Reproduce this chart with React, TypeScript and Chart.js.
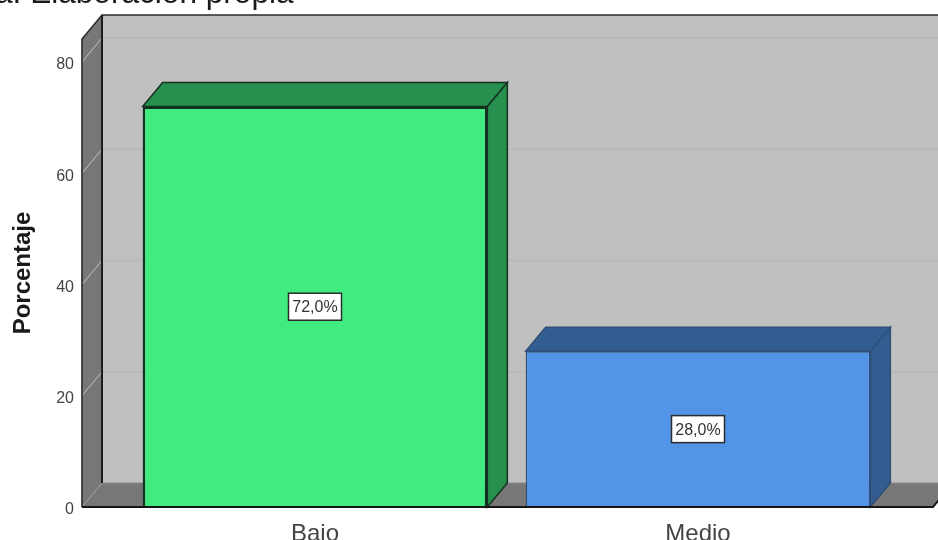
import React, { useEffect, useRef } from "react";
import { Chart, registerables } from "chart.js";

Chart.register(...registerables);

const categories = ["Bajo", "Medio"];
const percentages = [72, 28];
const yTicksMax = 84.13;
const frontColors = ["#40ec80", "#5294e6"];
const shadeColors = ["#28904f", "#335c90"];
const edgeColors = ["#14301f", "#2f4f78"];
const sourceText = "a: Elaboración propia";

const DX = 20;
const DY = 24;
const FONT = "'Liberation Sans', Arial, sans-serif";

const poly = (ctx: CanvasRenderingContext2D, pts: number[][], fill: string, stroke?: string, lw = 1) => {
  ctx.beginPath();
  pts.forEach((p, i) => (i ? ctx.lineTo(p[0], p[1]) : ctx.moveTo(p[0], p[1])));
  ctx.closePath();
  ctx.fillStyle = fill;
  ctx.fill();
  if (stroke) {
    ctx.strokeStyle = stroke;
    ctx.lineWidth = lw;
    ctx.stroke();
  }
};

const line = (ctx: CanvasRenderingContext2D, pts: number[][], stroke: string, lw = 1) => {
  ctx.beginPath();
  pts.forEach((p, i) => (i ? ctx.lineTo(p[0], p[1]) : ctx.moveTo(p[0], p[1])));
  ctx.strokeStyle = stroke;
  ctx.lineWidth = lw;
  ctx.stroke();
};

const frame3d = {
  id: "frame3d",
  beforeDraw(chart: any) {
    // y tick labels sit slightly below their gridline in the reference
    chart.scales.y.getLabelItems().forEach((item: any) => {
      item.options.translation[1] += 3;
    });
  },
  beforeDatasetsDraw(chart: any) {
    const { ctx, chartArea, scales } = chart;
    const y = scales.y;
    const L = chartArea.left - 41.5;
    const R = chartArea.right + 43.5;
    const B = y.getPixelForValue(0);
    const T = y.getPixelForValue(yTicksMax);
    ctx.save();
    poly(ctx, [[L + DX, T - DY], [R + DX, T - DY], [R + DX, B - DY], [L + DX, B - DY]], "#c0c0c0");
    poly(ctx, [[L, T], [L + DX, T - DY], [L + DX, B - DY], [L, B]], "#777777");
    poly(ctx, [[L, B], [L + DX, B - DY], [R + DX, B - DY], [R, B]], "#777777");
    line(ctx, [[L + DX, B - DY], [R + DX, B - DY]], "#8c8c8c", 1);
    [20, 40, 60, 80].forEach((v) => {
      const py = y.getPixelForValue(v);
      line(ctx, [[L, py], [L + DX, py - DY]], "#c4c4c4", 1);
      line(ctx, [[L + DX, py - DY], [R + DX, py - DY]], "#b8b8b8", 2);
    });
    line(ctx, [[L, B], [L + DX, B - DY]], "#9a9a9a", 1);
    line(ctx, [[L, B], [L, T], [L + DX, T - DY], [R + DX, T - DY]], "#2a2a2a", 1.5);
    line(ctx, [[L, T], [L, B]], "#3c3c3c", 1);
    line(ctx, [[L + DX, T - DY], [L + DX, B - DY]], "#1c1c1c", 2);
    chart.getDatasetMeta(0).data.forEach((bar: any, i: number) => {
      const l = bar.x - bar.width / 2;
      const r = bar.x + bar.width / 2;
      const t = bar.y;
      const b = bar.base;
      poly(ctx, [[l, t], [l + DX, t - DY], [r + DX, t - DY], [r, t]], shadeColors[i], edgeColors[i], 1.5);
      poly(ctx, [[r, t], [r + DX, t - DY], [r + DX, b - DY], [r, b]], shadeColors[i], edgeColors[i], 1.5);
    });
    ctx.restore();
  },
  afterDatasetsDraw(chart: any) {
    const { ctx, chartArea, scales } = chart;
    const y = scales.y;
    const L = chartArea.left - 41.5;
    const R = chartArea.right + 43.5;
    const B = y.getPixelForValue(0);
    ctx.save();
    line(ctx, [[L, B], [R, B], [R + DX, B - DY]], "#151515", 2);
    ctx.font = `16px ${FONT}`;
    ctx.textAlign = "center";
    ctx.textBaseline = "middle";
    chart.getDatasetMeta(0).data.forEach((bar: any, i: number) => {
      const cy = y.getPixelForValue(percentages[i] / 2);
      const w = 53;
      const h = 27;
      ctx.fillStyle = "#ffffff";
      ctx.fillRect(bar.x - w / 2, cy - h / 2, w, h);
      ctx.strokeStyle = "#2c2c2c";
      ctx.lineWidth = 1.5;
      ctx.strokeRect(bar.x - w / 2, cy - h / 2, w, h);
      ctx.fillStyle = "#333333";
      ctx.fillText(`${percentages[i].toFixed(1).replace(".", ",")}%`, bar.x, cy + 1);
    });
    ctx.font = `31.6px ${FONT}`;
    ctx.textAlign = "left";
    ctx.textBaseline = "alphabetic";
    ctx.fillStyle = "#1a1a1a";
    ctx.fillText(sourceText, -5, 3);
    ctx.restore();
  },
};

export default function App() {
  const ref = useRef<HTMLCanvasElement>(null);
  useEffect(() => {
    const chart = new Chart(ref.current as HTMLCanvasElement, {
      type: "bar",
      data: {
        labels: categories,
        datasets: [
          {
            label: "Porcentaje",
            data: percentages,
            backgroundColor: frontColors,
            borderColor: edgeColors,
            borderWidth: [2.5, 1.5],
            barPercentage: 0.9,
            categoryPercentage: 1,
          },
        ],
      },
      options: {
        animation: false,
        responsive: false,
        maintainAspectRatio: false,
        layout: { padding: { left: 0, right: 48.5, top: 39, bottom: 0 } },
        plugins: { legend: { display: false }, tooltip: { enabled: false } },
        scales: {
          x: {
            grid: { display: false },
            border: { display: false },
            ticks: {
              color: "#444444",
              font: { family: FONT, size: 24 },
              padding: 5,
              maxRotation: 0,
            },
            afterFit(scale: any) {
              scale.height = 33;
              scale.paddingLeft = 0;
              scale.paddingRight = 0;
            },
          },
          y: {
            min: 0,
            max: yTicksMax,
            bounds: "data",
            grid: { display: false, drawTicks: false },
            border: { display: false },
            ticks: {
              stepSize: 20,
              includeBounds: false,
              color: "#444444",
              font: { family: FONT, size: 16 },
              padding: 49.5,
            },
            title: {
              display: true,
              text: "Porcentaje",
              color: "#1a1a1a",
              font: { family: FONT, size: 24, weight: "bold" },
              padding: { top: 9, bottom: 0 },
            },
            afterFit(scale: any) {
              scale.width = 123.5;
              scale.paddingTop = 0;
              scale.paddingBottom = 0;
            },
          },
        },
      },
      plugins: [frame3d],
    } as any);
    return () => chart.destroy();
  }, []);
  return (
    <div style={{ position: "fixed", left: 0, top: 0, width: 938, height: 540, background: "#ffffff", overflow: "hidden" }}>
      <canvas ref={ref} width={938} height={540} style={{ display: "block", filter: "blur(0.6px)" }} />
    </div>
  );
}
